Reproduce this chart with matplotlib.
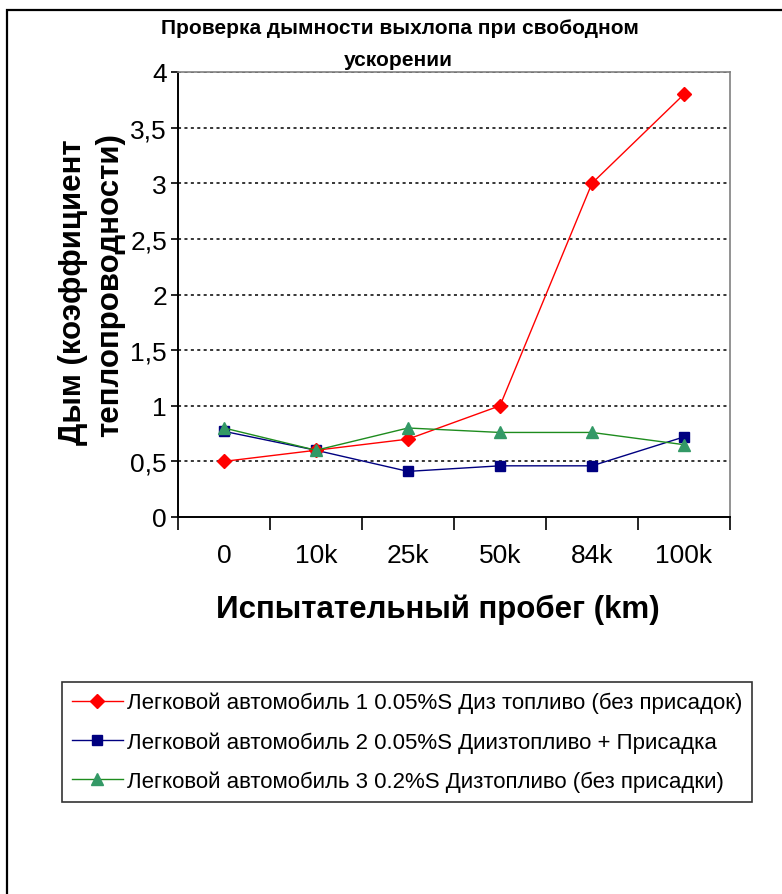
import matplotlib
matplotlib.use("Agg")
import matplotlib.pyplot as plt
from matplotlib.patches import Rectangle

plt.rcParams['font.family'] = ['Liberation Sans', 'DejaVu Sans']

categories = ["0", "10k", "25k", "50k", "84k", "100k"]
series_names = [
    "Легковой автомобиль 1 0.05%S Диз топливо (без присадок)",
    "Легковой автомобиль 2 0.05%S Диизтопливо + Присадка",
    "Легковой автомобиль 3 0.2%S Дизтопливо (без присадки)",
]
car1 = [0.5, 0.6, 0.7, 1.0, 3.0, 3.8]
car2 = [0.77, 0.6, 0.41, 0.46, 0.46, 0.72]
car3 = [0.8, 0.6, 0.8, 0.76, 0.76, 0.65]
y_ticks = [0, 0.5, 1, 1.5, 2, 2.5, 3, 3.5, 4]
y_tick_labels = ["0", "0,5", "1", "1,5", "2", "2,5", "3", "3,5", "4"]

title_line1 = "Проверка дымности выхлопа при свободном"
title_line2 = "ускорении"
ylabel_line1 = "Дым (коэффициент"
ylabel_line2 = "теплопроводности)"
xlabel = "Испытательный пробег (km)"

W, H = 782, 895
fig = plt.figure(figsize=(W / 100, H / 100), dpi=100)

def fx(px):
    return px / W

def fy(py):
    return 1 - py / H

# outer chart border
fig.add_artist(Rectangle((fx(7), fy(1100)), fx(900), (1100 - 11) / H,
                         transform=fig.transFigure, fill=False,
                         edgecolor='black', linewidth=1.6, clip_on=False))

left, right, top, bottom = 178, 730, 73, 518
ax = fig.add_axes([fx(left), fy(bottom), fx(right - left), (bottom - top) / H])

x = list(range(len(categories)))
ax.plot(x, car1, color='#FF0000', lw=1.0, marker='D', ms=7.5,
        markerfacecolor='#FF0000', markeredgecolor='#FF0000', label=series_names[0], zorder=5)
ax.plot(x, car2, color='#000080', lw=1.0, marker='s', ms=7,
        markerfacecolor='#000080', markeredgecolor='#000080', label=series_names[1], zorder=4)
ax.plot(x, car3, color='#1E8C1E', lw=1.0, marker='^', ms=8.5,
        markerfacecolor='#339966', markeredgecolor='#339966', label=series_names[2], zorder=6)

ax.set_xlim(-0.5, len(categories) - 0.5)
ax.set_ylim(0, 4)

# gridlines
for yv in y_ticks[1:]:
    ax.axhline(yv, color='black', lw=1.1, linestyle=(0, (2, 2.2)), zorder=2)

ax.set_yticks(y_ticks)
ax.set_yticklabels(y_tick_labels, fontsize=19)
ax.tick_params(axis='y', direction='out', length=5, width=1.2, pad=3)

ax.set_xticks(x)
ax.set_xticklabels(categories, fontsize=19)
ax.set_xticks([i - 0.5 for i in range(len(categories) + 1)], minor=True)
ax.tick_params(axis='x', which='major', length=0, pad=19)
ax.tick_params(axis='x', which='minor', direction='out', length=9, width=1.2)

for s in ['top', 'right']:
    ax.spines[s].set_color('#808080')
    ax.spines[s].set_linewidth(1.2)
for s in ['left', 'bottom']:
    ax.spines[s].set_color('black')
    ax.spines[s].set_linewidth(1.4)

fig.text(fx(400), fy(28), title_line1, ha='center', va='center', fontsize=15, fontweight='bold')
fig.text(fx(398), fy(60), title_line2, ha='center', va='center', fontsize=15, fontweight='bold')

fig.text(fx(73), fy(292), ylabel_line1, ha='center', va='center', rotation=90,
         fontsize=22.5, fontweight='bold')
fig.text(fx(110), fy(285), ylabel_line2, ha='center', va='center', rotation=90,
         fontsize=22.5, fontweight='bold')

fig.text(fx(438), fy(610), xlabel, ha='center', va='center', fontsize=22.5, fontweight='bold')

handles, labels = ax.get_legend_handles_labels()
leg = fig.legend(handles, labels, loc='center', bbox_to_anchor=(fx(407), fy(743)),
                 fontsize=16, frameon=True, fancybox=False, shadow=False,
                 edgecolor='black', handlelength=2.3, handletextpad=0.2,
                 labelspacing=0.8, borderpad=0.45, borderaxespad=0)
leg.get_frame().set_linewidth(1.2)

fig.savefig("out.png", dpi=100)
